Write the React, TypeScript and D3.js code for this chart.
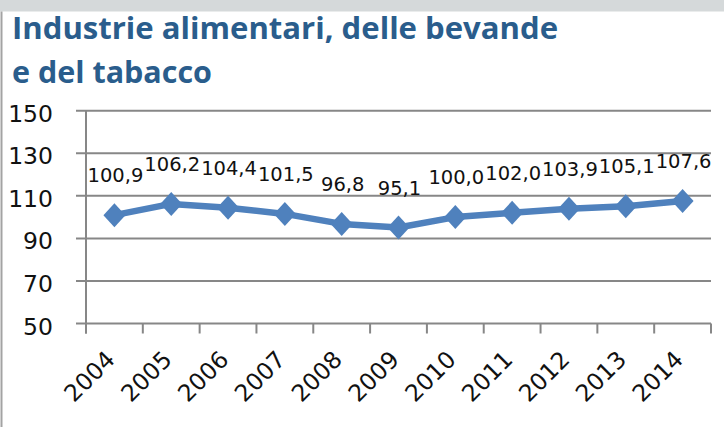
import React from "react";
import * as d3 from "d3";

const years = ["2004", "2005", "2006", "2007", "2008", "2009", "2010", "2011", "2012", "2013", "2014"];
const values = [100.9, 106.2, 104.4, 101.5, 96.8, 95.1, 100.0, 102.0, 103.9, 105.1, 107.6];
const yTicks = [50, 70, 90, 110, 130, 150];
const titleLines = ["Industrie alimentari, delle bevande", "e del tabacco"];

const W = 724;
const H = 427;

export default function App() {
  const x = d3.scaleBand<string>().domain(years).range([86, 711]);
  const y = d3.scaleLinear().domain([50, 150]).range([323.5, 110.7]);
  const cx = (d: string) => (x(d) as number) + x.bandwidth() / 2;

  const line = d3
    .line<number>()
    .x((_, i) => cx(years[i]))
    .y((v) => y(v));

  const boundaries = years.map((d) => x(d) as number).concat([711]);
  const fmt = (v: number) => v.toFixed(1).replace(".", ",");
  const grid = "#878787";

  return (
    <div style={{ position: "fixed", left: 0, top: 0 }}>
      <svg width={W} height={H} viewBox={`0 0 ${W} ${H}`} style={{ display: "block" }}>
        <rect x={0} y={0} width={W} height={H} fill="#ffffff" />
        <rect x={0} y={0} width={W} height={11.5} fill="#d5d9da" />
        <line x1={1.5} x2={1.5} y1={11.5} y2={H} stroke="#a3a3a3" strokeWidth={2} />

        <g fontFamily="'Open Sans', sans-serif" fontWeight={700} fill="#2a5d8c" fontSize={31}>
          <text x={12} y={39} textLength={546} lengthAdjust="spacingAndGlyphs">
            {titleLines[0]}
          </text>
          <text x={12} y={83} textLength={200} lengthAdjust="spacingAndGlyphs">
            {titleLines[1]}
          </text>
        </g>

        {yTicks.map((t) => (
          <line key={t} x1={76} x2={711} y1={y(t)} y2={y(t)} stroke={grid} strokeWidth={2} />
        ))}
        <line x1={86} x2={86} y1={y(150)} y2={y(50) + 10} stroke={grid} strokeWidth={2} />
        {boundaries.map((b, i) => (
          <line key={i} x1={b} x2={b} y1={y(50)} y2={y(50) + 10} stroke={grid} strokeWidth={2} />
        ))}

        <g fontFamily="'DejaVu Sans', sans-serif" fontSize={23.5} fill="#111" textAnchor="end">
          {yTicks.map((t) => (
            <text key={t} x={53} y={y(t) + 11}>
              {t}
            </text>
          ))}
        </g>

        <g fontFamily="'DejaVu Sans', sans-serif" fontSize={23.5} fill="#111" textAnchor="end">
          {years.map((d) => (
            <text key={d} transform={`translate(${cx(d) + 2},${361}) rotate(-45)`}>
              {d}
            </text>
          ))}
        </g>

        <path d={line(values) || ""} fill="none" stroke="#4f81bd" strokeWidth={6.5} strokeLinejoin="round" />
        {values.map((v, i) => {
          const px = cx(years[i]);
          const py = y(v);
          return (
            <path
              key={i}
              d={`M${px},${py - 12}L${px + 11},${py}L${px},${py + 12}L${px - 11},${py}Z`}
              fill="#4f81bd"
            />
          );
        })}

        <g fontFamily="'DejaVu Sans', sans-serif" fontSize={19.5} fill="#111" textAnchor="middle">
          {values.map((v, i) => (
            <text key={i} x={cx(years[i]) + 1} y={y(v) - 33}>
              {fmt(v)}
            </text>
          ))}
        </g>
      </svg>
    </div>
  );
}
